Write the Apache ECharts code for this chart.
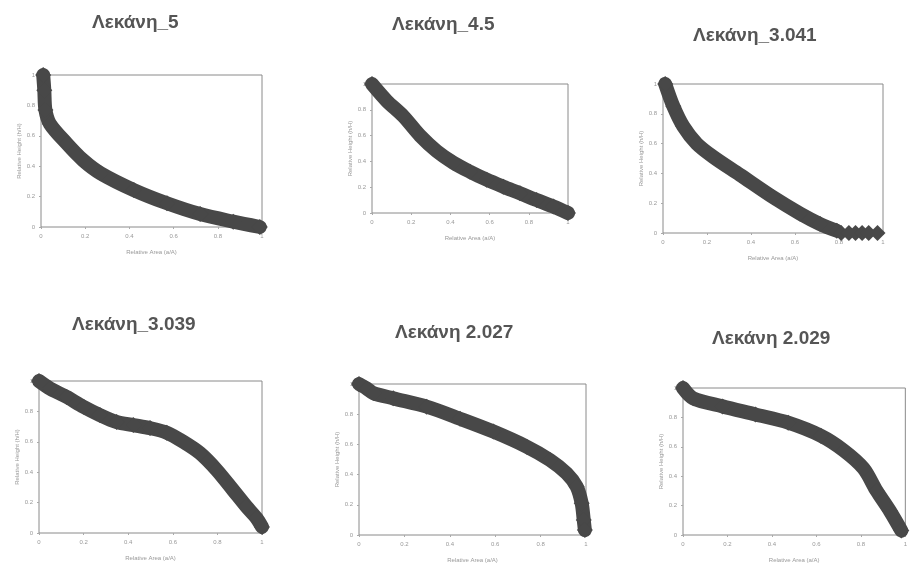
<!DOCTYPE html>
<html>
<head>
<meta charset="utf-8">
<script src="https://cdn.jsdelivr.net/npm/echarts@6/dist/echarts.min.js"></script>
<style>
html,body{margin:0;padding:0;background:#ffffff;}
#chart{width:910px;height:564px;}
</style>
</head>
<body>
<div id="chart"></div>
<script>
// ---- data (relative area a/A, relative height h/H) ----
var titles = ["Λεκάνη_5", "Λεκάνη_4.5", "Λεκάνη_3.041", "Λεκάνη_3.039", "Λεκάνη 2.027", "Λεκάνη 2.029"];
var axisTicks = [0, 0.2, 0.4, 0.6, 0.8, 1];
var xAxisName = "Relative Area (a/A)";
var yAxisName = "Relative Height (h/H)";

var area5 =   [0.01, 0.015, 0.02, 0.04, 0.116, 0.19, 0.27, 0.42, 0.57, 0.72, 0.87, 0.99];
var height5 = [1.0, 0.9, 0.77, 0.68, 0.55, 0.44, 0.353, 0.243, 0.156, 0.085, 0.035, 0.0];

var area45 =   [0.0, 0.075, 0.16, 0.245, 0.33, 0.415, 0.5, 0.585, 0.67, 0.755, 0.84, 0.925, 1.0];
var height45 = [1.0, 0.87, 0.75, 0.6, 0.48, 0.39, 0.32, 0.258, 0.204, 0.153, 0.1, 0.05, 0.0];

var area3041 =   [0.01, 0.047, 0.092, 0.153, 0.229, 0.35, 0.5, 0.623, 0.714, 0.79];
var height3041 = [1.0, 0.85, 0.716, 0.6, 0.51, 0.39, 0.24, 0.13, 0.06, 0.015];
var tailArea3041 =   [0.81, 0.845, 0.875, 0.905, 0.935, 0.975];
var tailHeight3041 = [0.0, 0.0, 0.0, 0.0, 0.0, 0.0];

var area3039 =   [0.0, 0.05, 0.124, 0.2, 0.273, 0.348, 0.423, 0.498, 0.573, 0.647, 0.722, 0.797, 0.87, 0.93, 0.976, 1.0];
var height3039 = [1.0, 0.95, 0.895, 0.83, 0.776, 0.73, 0.71, 0.69, 0.66, 0.6, 0.525, 0.414, 0.283, 0.174, 0.097, 0.04];

var area2027 =   [0.0, 0.034, 0.063, 0.151, 0.298, 0.445, 0.592, 0.739, 0.841, 0.915, 0.959, 0.981, 0.99, 0.995];
var height2027 = [1.0, 0.97, 0.94, 0.905, 0.85, 0.77, 0.685, 0.585, 0.497, 0.408, 0.32, 0.21, 0.1, 0.033];

var area2029 =   [0.0, 0.046, 0.178, 0.326, 0.473, 0.62, 0.723, 0.812, 0.871, 0.93, 0.982];
var height2029 = [1.0, 0.93, 0.875, 0.82, 0.764, 0.675, 0.575, 0.453, 0.3, 0.165, 0.03];

// ---- layout ----
var panels = [
  {x: area5, y: height5, grid: {left: 41, top: 75, width: 221, height: 152}, title: {left: 92, top: 13}},
  {x: area45, y: height45, grid: {left: 372, top: 84, width: 196, height: 129}, title: {left: 392, top: 15}},
  {x: area3041, y: height3041, grid: {left: 663, top: 84, width: 220, height: 149}, title: {left: 693, top: 26}},
  {x: area3039, y: height3039, grid: {left: 39, top: 381, width: 223, height: 152}, title: {left: 72, top: 315}},
  {x: area2027, y: height2027, grid: {left: 359, top: 384, width: 227, height: 151}, title: {left: 395, top: 323}},
  {x: area2029, y: height2029, grid: {left: 683, top: 388, width: 226, height: 150}, title: {left: 712, top: 329}}
];

function pairs(xs, ys) {
  var out = [];
  for (var i = 0; i < xs.length; i++) out.push([xs[i], ys[i]]);
  return out;
}

var bandColor = '#484848';
var option = {
  backgroundColor: '#ffffff',
  animation: false,
  title: [], grid: [], xAxis: [], yAxis: [], series: []
};

panels.forEach(function (p, i) {
  option.title.push({
    text: titles[i], left: p.title.left, top: p.title.top, padding: 0,
    textStyle: {fontFamily: 'Liberation Sans', fontSize: 19, fontWeight: 'bold', color: '#555555'}
  });
  option.grid.push({
    left: p.grid.left, top: p.grid.top, width: p.grid.width, height: p.grid.height,
    show: true, borderColor: '#8a8a8a', borderWidth: 1, backgroundColor: 'transparent', containLabel: false
  });
  var common = {
    gridIndex: i, type: 'value', min: axisTicks[0], max: axisTicks[axisTicks.length - 1], interval: 0.2,
    axisLine: {show: false}, splitLine: {show: false},
    axisTick: {show: true, length: 2, lineStyle: {color: '#aaa'}},
    axisLabel: {fontSize: 6, color: '#999', fontFamily: 'Liberation Sans', margin: 6},
    nameTextStyle: {fontSize: 6, color: '#999', fontFamily: 'Liberation Sans'}
  };
  option.xAxis.push(Object.assign({}, common, {
    name: xAxisName, nameLocation: 'middle', nameGap: 22
  }));
  option.yAxis.push(Object.assign({}, common, {
    name: yAxisName, nameLocation: 'middle', nameGap: 16
  }));
  option.series.push({
    type: 'line', xAxisIndex: i, yAxisIndex: i, data: pairs(p.x, p.y),
    smooth: 0.3, clip: false,
    lineStyle: {color: bandColor, width: 14, cap: 'round', join: 'round', opacity: 1},
    symbol: 'diamond', symbolSize: 16, showSymbol: true, showAllSymbol: true,
    itemStyle: {color: bandColor, opacity: 1},
    z: 3
  });
});

option.series.push({
  type: 'scatter', xAxisIndex: 2, yAxisIndex: 2, data: pairs(tailArea3041, tailHeight3041),
  symbol: 'diamond', symbolSize: 16, clip: false, itemStyle: {color: bandColor, opacity: 1}, z: 3
});

var chart = echarts.init(document.getElementById('chart'), null, {renderer: 'canvas'});
chart.setOption(option);
</script>
</body>
</html>
